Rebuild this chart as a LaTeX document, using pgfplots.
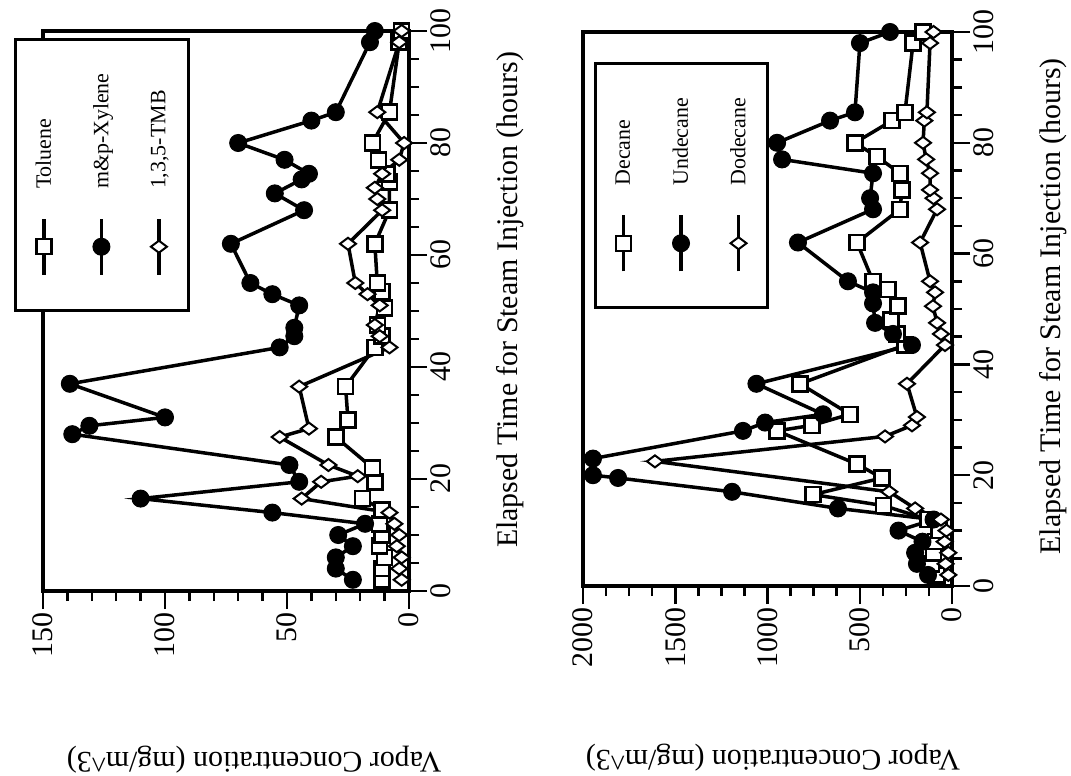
\documentclass[border=0pt]{standalone}
\usepackage{fontspec}
\setmainfont{Liberation Serif}
\usepackage{pgfplots}
\usepackage{pgfplotstable}
\pgfplotsset{compat=1.18}

% hours, mg/m^3
\pgfplotstableread{
t v
2 11
4 11
6 10
8 12
10 11
12 12
14.5 11
16.5 19
19.5 14
22 15
27.5 30
30.5 25
36.5 26
43.5 14
45.5 11
47.5 13
50.5 10
53.5 11
55 13
62 14
68 8
73 8
74.5 9
77 12.5
80 15
85.5 8
98 4
100 3
}\toluene
\pgfplotstableread{
t v
2 23
4 30
6 30
8 23
10 29
12 18
14 56
16.5 110
19.5 45
22.5 49
28 138
29.5 131
31 100
37 139
43.5 53
45.5 47
47 47
51 45
53 56
55 65
62 73
68 43
71 55
73.5 44
74.5 41
77 51
80 70
84 40
85.5 30
98 16
100 14
}\xylene
\pgfplotstableread{
t v
2 3
4 4
6 3
8 5
10 4
12 6
14 8
16.5 44
19.5 36
20.5 21
22.5 33
27.5 53
29 41
36.5 45
43.5 8
45.5 12
47.5 14
51 12
53 17
55 22
62 25
68 11
70 13
72 14
74.5 11
77 4
80 2
85.5 13
98 4
100 3
}\tmb
\pgfplotstableread{
t v
2 80
4 110
6 100
8 90
10 70
12 130
14.5 370
16.5 753
19.5 379
22 515
28 948
29 759
31 553
36.5 824
43.5 255
45.5 298
48 330
50.5 293
53.5 347
55 428
62 515
68 282
71.5 271
74.5 282
77.5 407
80 526
84 325
85.5 255
98 211
100 157
}\decane
\pgfplotstableread{
t v
2 130
4 190
6 200
8 160
10 290
12 100
14 618
17 1192
19.5 1810
20 1946
23 1946
28 1133
29.5 1013
31 699
36.5 1060
43.5 217
45.5 320
47.5 417
51 428
53 428
55 564
62 835
68 428
70 444
74.5 428
77 921
80 948
84 661
85.5 526
98 499
100 336
}\undecane
\pgfplotstableread{
t v
2 20
4 35
6 20
8 40
10 30
12 60
14 200
17 340
22.5 1610
27 363
29 217
30.5 190
36.5 244
43.5 38
45.5 60
47.5 81
50.5 103
53 92
55 119
62 173
68 81
70 100
71.5 119
74.5 119
77 140
80 157
84 150
85.5 136
98 119
100 100
}\dodecane

\pgfplotsset{
  panel/.style={
    scale only axis, anchor=south west,
    x dir=reverse, xmin=0, ymin=0, ymax=100,
    axis line style={line width=3.5bp},
    every tick/.style={line width=2.5bp, black},
    major tick length=18bp, minor tick length=10bp,
    tick align=outside,
    xtick pos=left, ytick pos=right, yticklabel pos=right,
    ytick={0,20,...,100}, minor y tick num=3,
    scaled ticks=false,
    /pgf/number format/1000 sep={},
    /pgf/number format/assume math mode=true,
    ticklabel style={font=\fontsize{30}{30}\selectfont},
    xticklabel style={rotate=90, anchor=east},
    yticklabel style={rotate=90, anchor=north},
    label style={font=\fontsize{30}{34}\selectfont},
    ylabel={Elapsed Time for Steam Injection (hours)},
    xlabel={Vapor Concentration (mg/m\textasciicircum 3)},
    legend columns=3,
    legend style={draw=black, line width=3bp, fill=white, anchor=center,
      column sep=0bp, inner xsep=0bp, inner ysep=34bp,
      nodes={inner sep=0pt}},
    every axis plot/.append style={black, line width=3.5bp},
  },
  % legend entry drawn upright: short vertical line with the mark, name above it
  lgd/.style={legend image code/.code={
      \draw[mark repeat=2, mark phase=2]
        plot coordinates {(0bp,0bp) (0bp,28bp) (0bp,56bp)};
      \node[rotate=90, anchor=west, inner sep=0pt, black,
            font=\fontsize{22}{24}\selectfont] at (0bp,84bp) {#1};
      \path (-26.5bp,0bp) (26.5bp,0bp);
  }},
  sq/.style={mark=square*, mark size=7.5bp, mark options={fill=white, line width=2.5bp}},
  dot/.style={mark=*, mark size=8.5bp, mark options={fill=black, line width=1bp}},
  dia/.style={mark=diamond*, mark size=8bp, mark options={fill=white, line width=2bp, rotate=90}},
}

\begin{document}
\begin{tikzpicture}
\useasboundingbox[fill=white] (0,0) rectangle (1071bp,776bp);

\begin{axis}[panel, at={(43bp,185bp)}, width=366bp, height=560bp,
    xmax=150, xtick={0,50,100,150}, minor x tick num=4,
    xlabel style={at={(axis description cs:0.577,-0.302)}, anchor=center, rotate=180},
    ylabel style={at={(axis description cs:1.276,0.52)}, anchor=center},
    legend style={at={(axis description cs:0.161,0.743)}}]
  \addplot[sq, lgd=Toluene] table[x=v, y=t] {\toluene};
  \addlegendentry{\mbox{}}
  \addplot[dot, lgd=m\&p-Xylene] table[x=v, y=t] {\xylene};
  \addlegendentry{\mbox{}}
  \addplot[dia, lgd={1,3,5-TMB}] table[x=v, y=t] {\tmb};
  \addlegendentry{\mbox{}}
\end{axis}

\begin{axis}[panel, at={(583bp,190bp)}, width=369bp, height=554bp,
    xmax=2000, xtick={0,500,...,2000}, minor x tick num=3,
    xlabel style={at={(axis description cs:0.515,-0.310)}, anchor=center, rotate=180},
    ylabel style={at={(axis description cs:1.274,0.505)}, anchor=center},
    legend style={at={(axis description cs:0.267,0.723)}}]
  \addplot[sq, lgd=Decane] table[x=v, y=t] {\decane};
  \addlegendentry{\mbox{}}
  \addplot[dot, lgd=Undecane] table[x=v, y=t] {\undecane};
  \addlegendentry{\mbox{}}
  \addplot[dia, lgd=Dodecane] table[x=v, y=t] {\dodecane};
  \addlegendentry{\mbox{}}
\end{axis}
\end{tikzpicture}
\end{document}
